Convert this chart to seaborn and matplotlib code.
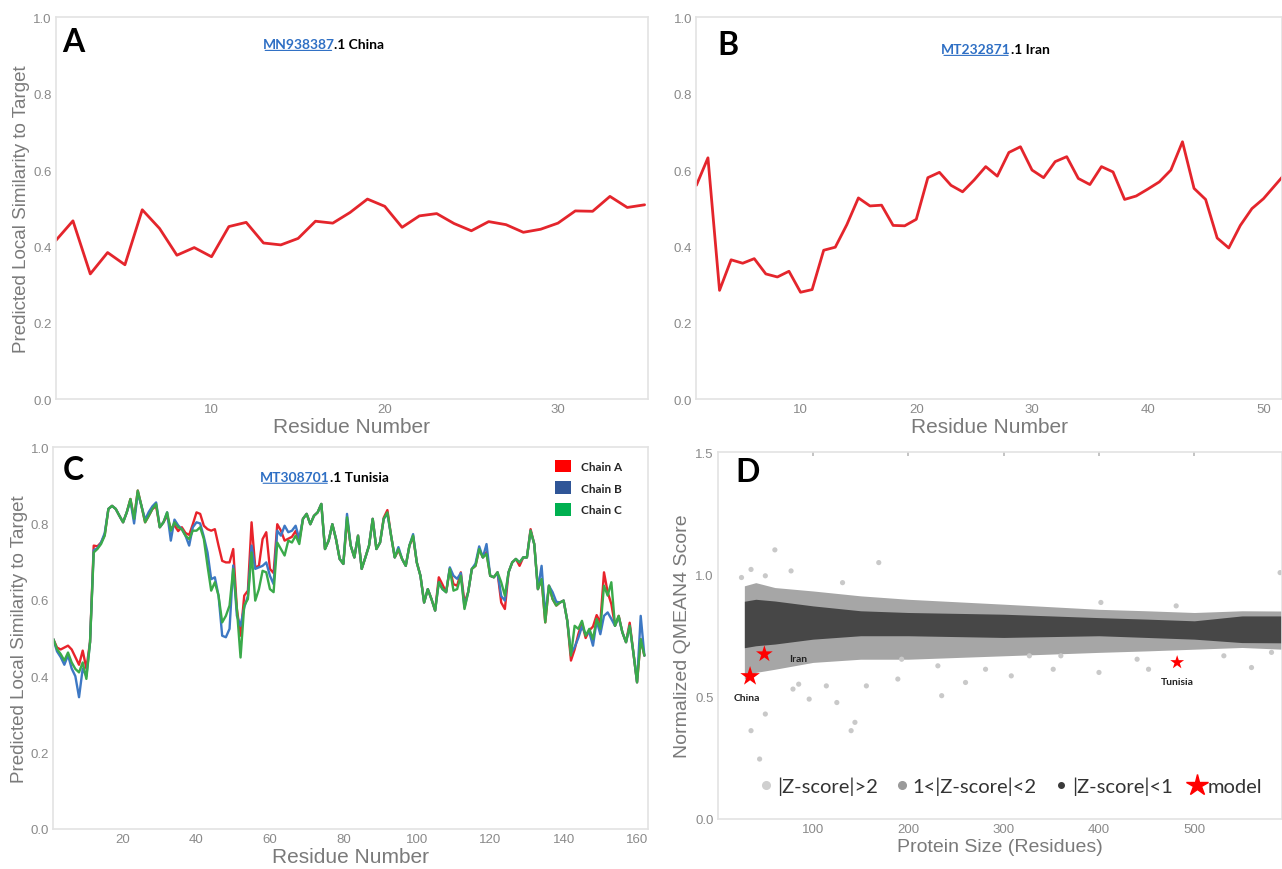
import numpy as np
import pandas as pd
import seaborn as sns
import matplotlib.pyplot as plt
from matplotlib.lines import Line2D
from matplotlib.patches import Patch

# ---- data ----
china = [0.415, 0.467, 0.328, 0.384, 0.352, 0.496, 0.447, 0.377, 0.397, 0.373,
         0.452, 0.463, 0.409, 0.404, 0.421, 0.466, 0.461, 0.489, 0.524, 0.505,
         0.450, 0.480, 0.486, 0.460, 0.441, 0.465, 0.457, 0.437, 0.445, 0.461,
         0.493, 0.492, 0.531, 0.502, 0.509]

iran = [0.560, 0.632, 0.285, 0.365, 0.356, 0.368, 0.328, 0.320, 0.335, 0.280,
        0.287, 0.390, 0.398, 0.457, 0.527, 0.506, 0.508, 0.455, 0.454, 0.471,
        0.580, 0.594, 0.560, 0.543, 0.574, 0.609, 0.584, 0.646, 0.661, 0.600,
        0.580, 0.622, 0.635, 0.578, 0.562, 0.609, 0.595, 0.523, 0.532, 0.550,
        0.569, 0.600, 0.674, 0.552, 0.523, 0.422, 0.396, 0.455, 0.499, 0.525,
        0.560, 0.595]

chain_a = [0.497, 0.475, 0.470, 0.475, 0.480, 0.470, 0.450, 0.430, 0.467, 0.420,
           0.490, 0.742, 0.740, 0.750, 0.770, 0.838, 0.846, 0.838, 0.820, 0.803,
           0.829, 0.864, 0.812, 0.886, 0.846, 0.803, 0.820, 0.838, 0.845, 0.790,
           0.803, 0.820, 0.785, 0.795, 0.780, 0.790, 0.775, 0.770, 0.798, 0.829,
           0.825, 0.794, 0.785, 0.781, 0.785, 0.742, 0.702, 0.698, 0.698, 0.733,
           0.576, 0.506, 0.611, 0.624, 0.803, 0.685, 0.689, 0.759, 0.777, 0.681,
           0.670, 0.798, 0.781, 0.755, 0.760, 0.765, 0.780, 0.755, 0.812, 0.825,
           0.798, 0.820, 0.829, 0.851, 0.733, 0.755, 0.798, 0.759, 0.707, 0.694,
           0.810, 0.742, 0.711, 0.768, 0.681, 0.711, 0.742, 0.812, 0.733, 0.750,
           0.815, 0.835, 0.768, 0.711, 0.730, 0.707, 0.689, 0.742, 0.765, 0.698,
           0.663, 0.593, 0.628, 0.602, 0.572, 0.659, 0.640, 0.620, 0.681, 0.641,
           0.637, 0.672, 0.593, 0.620, 0.681, 0.689, 0.733, 0.711, 0.725, 0.663,
           0.659, 0.672, 0.593, 0.576, 0.672, 0.698, 0.707, 0.689, 0.711, 0.711,
           0.785, 0.746, 0.628, 0.654, 0.541, 0.637, 0.602, 0.585, 0.593, 0.598,
           0.545, 0.441, 0.470, 0.510, 0.540, 0.500, 0.520, 0.530, 0.560, 0.540,
           0.672, 0.620, 0.589, 0.532, 0.558, 0.515, 0.489, 0.540, 0.462, 0.384,
           0.497, 0.454]

chain_b = [0.497, 0.465, 0.450, 0.430, 0.455, 0.420, 0.400, 0.345, 0.420, 0.400,
           0.489, 0.730, 0.735, 0.750, 0.775, 0.838, 0.846, 0.838, 0.820, 0.803,
           0.829, 0.860, 0.800, 0.880, 0.846, 0.810, 0.830, 0.845, 0.855, 0.790,
           0.803, 0.829, 0.755, 0.810, 0.795, 0.785, 0.768, 0.742, 0.790, 0.803,
           0.800, 0.765, 0.724, 0.654, 0.659, 0.611, 0.506, 0.502, 0.524, 0.690,
           0.558, 0.532, 0.580, 0.610, 0.742, 0.681, 0.685, 0.689, 0.698, 0.663,
           0.641, 0.781, 0.768, 0.794, 0.777, 0.781, 0.794, 0.760, 0.812, 0.825,
           0.798, 0.820, 0.829, 0.851, 0.733, 0.755, 0.798, 0.759, 0.707, 0.694,
           0.825, 0.742, 0.711, 0.768, 0.681, 0.711, 0.742, 0.812, 0.733, 0.750,
           0.812, 0.825, 0.768, 0.711, 0.738, 0.707, 0.689, 0.742, 0.772, 0.698,
           0.663, 0.593, 0.628, 0.602, 0.572, 0.646, 0.628, 0.620, 0.685, 0.663,
           0.655, 0.670, 0.580, 0.620, 0.681, 0.695, 0.740, 0.711, 0.746, 0.663,
           0.659, 0.672, 0.610, 0.598, 0.672, 0.698, 0.707, 0.698, 0.711, 0.711,
           0.781, 0.746, 0.628, 0.689, 0.560, 0.637, 0.620, 0.595, 0.593, 0.598,
           0.545, 0.460, 0.476, 0.500, 0.530, 0.510, 0.515, 0.480, 0.545, 0.510,
           0.558, 0.567, 0.550, 0.532, 0.555, 0.515, 0.489, 0.532, 0.462, 0.384,
           0.558, 0.454]

chain_c = [0.497, 0.471, 0.458, 0.441, 0.462, 0.436, 0.419, 0.410, 0.436, 0.393,
           0.489, 0.724, 0.733, 0.746, 0.768, 0.838, 0.846, 0.838, 0.820, 0.803,
           0.829, 0.864, 0.812, 0.886, 0.846, 0.803, 0.820, 0.838, 0.851, 0.790,
           0.803, 0.829, 0.781, 0.803, 0.790, 0.785, 0.768, 0.759, 0.781, 0.781,
           0.790, 0.759, 0.689, 0.624, 0.646, 0.611, 0.541, 0.558, 0.585, 0.681,
           0.576, 0.449, 0.585, 0.602, 0.724, 0.598, 0.628, 0.676, 0.672, 0.628,
           0.620, 0.750, 0.733, 0.716, 0.755, 0.750, 0.768, 0.746, 0.812, 0.825,
           0.798, 0.820, 0.829, 0.851, 0.733, 0.755, 0.798, 0.759, 0.707, 0.694,
           0.816, 0.742, 0.711, 0.768, 0.681, 0.711, 0.742, 0.812, 0.733, 0.750,
           0.812, 0.829, 0.768, 0.711, 0.733, 0.707, 0.689, 0.742, 0.768, 0.698,
           0.663, 0.593, 0.628, 0.602, 0.572, 0.646, 0.628, 0.620, 0.681, 0.624,
           0.628, 0.663, 0.576, 0.620, 0.681, 0.689, 0.733, 0.711, 0.720, 0.663,
           0.659, 0.672, 0.646, 0.611, 0.672, 0.698, 0.707, 0.698, 0.711, 0.711,
           0.781, 0.746, 0.628, 0.654, 0.541, 0.637, 0.602, 0.585, 0.593, 0.598,
           0.545, 0.454, 0.532, 0.524, 0.545, 0.506, 0.524, 0.497, 0.550, 0.524,
           0.637, 0.611, 0.646, 0.532, 0.558, 0.515, 0.489, 0.532, 0.462, 0.384,
           0.497, 0.454]

# QMEAN reference cloud (band edges) for panel D
band_x = [28, 40, 60, 100, 150, 200, 300, 400, 450, 500, 550, 592]
dark_lo = [0.700, 0.708, 0.715, 0.735, 0.749, 0.749, 0.742, 0.749, 0.742, 0.735, 0.721, 0.720]
dark_hi = [0.890, 0.898, 0.891, 0.871, 0.851, 0.844, 0.837, 0.823, 0.817, 0.810, 0.830, 0.830]
mid_lo = [0.572, 0.599, 0.612, 0.640, 0.653, 0.653, 0.667, 0.681, 0.687, 0.694, 0.701, 0.694]
mid_hi = [0.953, 0.966, 0.946, 0.932, 0.912, 0.898, 0.878, 0.857, 0.851, 0.844, 0.851, 0.850]

out_x = [60, 169, 35, 50, 77, 131, 50, 35, 44, 144, 140, 125, 96, 79, 114, 85, 156,
         189, 235, 260, 308, 352, 400, 360, 452, 560, 581, 402, 481, 590, 25, 193,
         231, 281, 327, 440, 531]
out_y = [1.100, 1.048, 1.020, 0.994, 1.014, 0.966, 0.429, 0.361, 0.245, 0.395, 0.361,
         0.476, 0.490, 0.531, 0.544, 0.551, 0.544, 0.572, 0.504, 0.558, 0.585, 0.612,
         0.599, 0.667, 0.612, 0.619, 0.681, 0.885, 0.871, 1.007, 0.987, 0.653, 0.626,
         0.612, 0.667, 0.653, 0.667]

model_names = ["China", "Iran", "Tunisia"]
model_size = [34, 49, 482]
model_score = [0.583, 0.674, 0.640]

# ---- style ----
sns.set_theme(style="white")
plt.rcParams['font.family'] = ['Liberation Sans', 'DejaVu Sans']

RED = "#e4252c"
LINK = "#2e6fc4"
TICK = "#8a8a8a"
LABEL = "#7a7a7a"
FRAME = "#e3e3e3"
BOLD_FONT = ['Lato', 'DejaVu Sans']

fig = plt.figure(figsize=(12.82, 8.70), dpi=100)
axA = fig.add_axes([0.0434, 0.540, 0.4621, 0.439])
axB = fig.add_axes([0.5432, 0.540, 0.4568, 0.439])
axC = fig.add_axes([0.0416, 0.046, 0.4639, 0.439])
axD = fig.add_axes([0.5598, 0.0575, 0.4402, 0.4218])


def style_axes(ax):
    for s in ax.spines.values():
        s.set_color(FRAME)
        s.set_linewidth(1.2)
    ax.tick_params(colors=TICK, labelsize=9.5, length=0, pad=3)


def panel_title(ax, code, rest, x, y):
    t1 = ax.text(x, y, code, transform=ax.transAxes, color=LINK, fontsize=10,
                 fontweight='bold', family=BOLD_FONT, va='baseline')
    ax.annotate(rest, xy=(1, 0), xycoords=t1, va='bottom', fontsize=10,
                fontweight='bold', family=BOLD_FONT, color='black')
    ax.annotate('', xy=(0, -0.05), xycoords=t1, xytext=(1, -0.05), textcoords=t1,
                arrowprops=dict(arrowstyle='-', color=LINK, lw=0.8))


def panel_letter(ax, letter, x, y):
    ax.text(x, y, letter, transform=ax.transAxes, fontsize=23, fontweight='bold',
            family=BOLD_FONT, va='center', ha='left', color='black')


# ---- A ----
dfA = pd.DataFrame({"res": np.arange(1, len(china) + 1), "score": china})
sns.lineplot(data=dfA, x="res", y="score", ax=axA, color=RED, lw=2.0)
axA.set_xlim(1, 35.2)
axA.set_xticks([10, 20, 30])
panel_letter(axA, "A", 0.011, 0.937)
panel_title(axA, "MN938387", ".1 China", 0.349, 0.92)

# ---- B ----
dfB = pd.DataFrame({"res": np.arange(1, len(iran) + 1), "score": iran})
sns.lineplot(data=dfB, x="res", y="score", ax=axB, color=RED, lw=2.0)
axB.set_xlim(1, 51.6)
axB.set_xticks([10, 20, 30, 40, 50])
panel_letter(axB, "B", 0.035, 0.929)
panel_title(axB, "MT232871", ".1 Iran", 0.418, 0.907)

# ---- C ----
res_c = np.arange(1, len(chain_c) + 1)
dfC = pd.DataFrame({"res": np.concatenate([res_c] * 3),
                    "score": chain_a + chain_b + chain_c,
                    "chain": ["Chain A"] * len(chain_a) + ["Chain B"] * len(chain_b)
                             + ["Chain C"] * len(chain_c)})
line_cols = {"Chain A": "#e8232b", "Chain B": "#3d78c4", "Chain C": "#3aaa4a"}
for ch in ["Chain A", "Chain B", "Chain C"]:
    sns.lineplot(data=dfC[dfC.chain == ch], x="res", y="score", ax=axC,
                 color=line_cols[ch], lw=1.7)
axC.set_xlim(1, 163)
axC.set_xticks([20, 40, 60, 80, 100, 120, 140, 160])
panel_letter(axC, "C", 0.016, 0.942)
panel_title(axC, "MT308701", ".1 Tunisia", 0.348, 0.912)
leg_handles = [Patch(facecolor=c, edgecolor='none', label=l)
               for l, c in zip(["Chain A", "Chain B", "Chain C"], ["#ff0000", "#2f5597", "#00b050"])]
axC.legend(handles=leg_handles, loc='upper right', bbox_to_anchor=(0.975, 0.995),
           frameon=False, handlelength=1.3, handleheight=1.3, labelspacing=0.75,
           handletextpad=0.9, prop={'family': BOLD_FONT, 'weight': 'bold', 'size': 8.5})

for ax in (axA, axB, axC):
    style_axes(ax)
    ax.set_ylim(0, 1.0)
    ax.set_yticks([0, 0.2, 0.4, 0.6, 0.8, 1.0])
    ax.set_yticklabels(["0.0", "0.2", "0.4", "0.6", "0.8", "1.0"])
    ax.set_xlabel("Residue Number", fontsize=15, color=LABEL, labelpad=1)
    ax.set_ylabel("")
axA.set_ylabel("Predicted Local Similarity to Target", fontsize=13.5, color=LABEL, labelpad=2)
axC.set_ylabel("Predicted Local Similarity to Target", fontsize=13.5, color=LABEL, labelpad=2)

# ---- D ----
axD.fill_between(band_x, mid_lo, mid_hi, color="#a6a6a6", lw=0)
axD.fill_between(band_x, dark_lo, dark_hi, color="#474747", lw=0)
dfO = pd.DataFrame({"size": out_x, "score": out_y})
sns.scatterplot(data=dfO, x="size", y="score", ax=axD, color="#c9c9c9", s=14,
                edgecolor='none')
dfM = pd.DataFrame({"size": model_size, "score": model_score, "name": model_names})
sns.scatterplot(data=dfM, x="size", y="score", ax=axD, color="#ff0000", marker="*",
                s=[220, 160, 110], edgecolor='none', legend=False)
offsets = {"China": (-2, -15), "Iran": (24, -3), "Tunisia": (0, -14)}
for n, xs, ys in zip(model_names, model_size, model_score):
    axD.annotate(n, (xs, ys), xytext=offsets[n], textcoords='offset points',
                 ha='center', va='center', fontsize=7.5, fontweight='bold',
                 family=BOLD_FONT, color='#222222')

axD.set_xlim(0, 592)
axD.set_ylim(0, 1.5)
axD.set_xticks([100, 200, 300, 400, 500])
axD.set_yticks([0, 0.5, 1.0, 1.5])
axD.set_yticklabels(["0.0", "0.5", "1.0", "1.5"])
style_axes(axD)
axD.tick_params(axis='x', top=True, bottom=False, length=3, direction='in',
                color="#bdbdbd", pad=3)
axD.tick_params(axis='x', labeltop=False, labelbottom=True)
axD.set_xlabel("Protein Size (Residues)", fontsize=14, color=LABEL, labelpad=2)
axD.set_ylabel("Normalized QMEAN4 Score", fontsize=14, color=LABEL, labelpad=3)
panel_letter(axD, "D", 0.031, 0.948)

d_handles = [
    Line2D([], [], ls='none', marker='o', ms=5.5, color="#cfcfcf", label="|Z-score|>2"),
    Line2D([], [], ls='none', marker='o', ms=5.5, color="#9a9a9a", label="1<|Z-score|<2"),
    Line2D([], [], ls='none', marker='o', ms=4, color="#3a3a3a", label="|Z-score|<1"),
    Line2D([], [], ls='none', marker='*', ms=16, color="#ff0000", label="model"),
]
axD.legend(handles=d_handles, loc='center', bbox_to_anchor=(0.52, 0.09), ncol=4,
           frameon=False, handlelength=0.6, handletextpad=0.25, columnspacing=0.9,
           borderpad=0.2, prop={'family': ['Lato', 'DejaVu Sans'], 'size': 14.5},
           labelcolor='#333333')

fig.savefig("out.png", dpi=100, facecolor='white')
